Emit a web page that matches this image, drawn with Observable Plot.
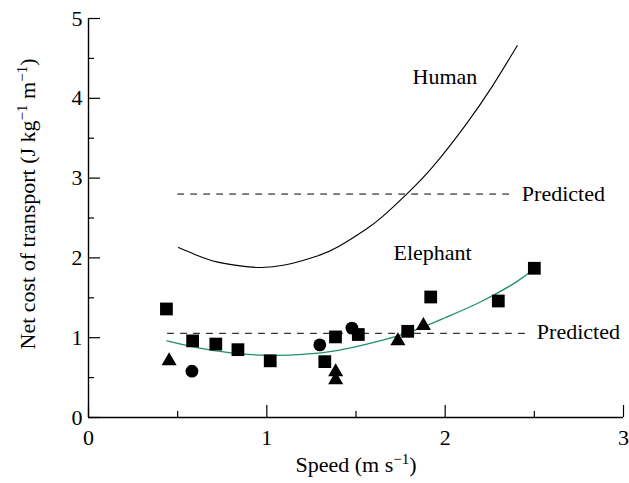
<!DOCTYPE html>
<html>
<head>
<meta charset="utf-8">
<script src="https://cdn.jsdelivr.net/npm/d3@7"></script>
<script src="https://cdn.jsdelivr.net/npm/@observablehq/plot@0.6"></script>
<style>
  html, body { margin: 0; padding: 0; background: #fff; }
  #chart { width: 629px; height: 483px; }
</style>
</head>
<body>
<div id="chart"></div>
<script>
// ---- data ----
const xTicks = [0, 1, 2, 3];
const xMinorTicks = [0.5, 1.5, 2.5];
const yTicks = [0, 1, 2, 3, 4, 5];
const yMinorTicks = [0.5, 1.5, 2.5, 3.5, 4.5];

const squareX = [0.437, 0.584, 0.714, 0.838, 1.019, 1.325, 1.385, 1.513, 1.79, 1.919, 2.298, 2.5];
const squareY = [1.36, 0.96, 0.92, 0.85, 0.71, 0.70, 1.01, 1.04, 1.08, 1.51, 1.46, 1.87];
const circleX = [0.58, 1.297, 1.477];
const circleY = [0.58, 0.91, 1.12];
const triangleX = [0.452, 1.386, 1.386, 1.735, 1.878];
const triangleY = [0.71, 0.57, 0.47, 0.96, 1.15];

const elephantX = [0.44, 0.6, 0.8, 1.0, 1.2, 1.4, 1.6, 1.8, 2.0, 2.2, 2.4, 2.5];
const elephantY = [0.96, 0.88, 0.81, 0.78, 0.79, 0.84, 0.94, 1.07, 1.25, 1.45, 1.70, 1.87];

const humanX = [0.504, 0.6, 0.719, 0.85, 0.961, 1.1, 1.278, 1.4, 1.55, 1.65, 1.78, 1.93, 2.116, 2.264, 2.404];
const humanY = [2.13, 2.04, 1.95, 1.90, 1.88, 1.91, 2.02, 2.14, 2.35, 2.52, 2.79, 3.14, 3.67, 4.15, 4.66];

const predictedHumanX = [0.5, 2.37];
const predictedHumanY = [2.8, 2.8];
const predictedElephantX = [0.443, 2.47];
const predictedElephantY = [1.055, 1.055];

const labelText = ["Human", "Elephant", "Predicted", "Predicted"];
const labelX = [1.817, 1.71, 2.43, 2.514];
const labelY = [4.27, 2.06, 2.8, 1.07];

// ---- build tables ----
const pts = (xs, ys) => xs.map((x, i) => ({x, y: ys[i]}));
const squares = pts(squareX, squareY);
const circles = pts(circleX, circleY);
const triangles = pts(triangleX, triangleY);
const elephant = pts(elephantX, elephantY);
const human = pts(humanX, humanY);
const predH = pts(predictedHumanX, predictedHumanY);
const predE = pts(predictedElephantX, predictedElephantY);
const labels = labelText.map((t, i) => ({text: t, x: labelX[i], y: labelY[i]}));

const FONT = "Liberation Serif, Times New Roman, serif";
const green = "#1f8e6c";

const plot = Plot.plot({
  width: 629,
  height: 483,
  marginLeft: 88,
  marginRight: 6,
  marginTop: 18,
  marginBottom: 66,
  x: {domain: [0, 3]},
  y: {domain: [0, 5]},
  style: {fontFamily: FONT, fontSize: "22px", color: "black", background: "white"},
  marks: [
    Plot.axisX({ticks: xTicks, tickSize: -12, tickPadding: 24, label: null, fontSize: 22, tickFormat: d => String(d), strokeWidth: 1.2}),
    Plot.axisX({ticks: xMinorTicks, tickSize: -6, label: null, tickFormat: () => "", strokeWidth: 1.2}),
    Plot.axisY({ticks: yTicks, tickSize: -12, tickPadding: 18, label: null, fontSize: 22, tickFormat: d => String(d), strokeWidth: 1.2}),
    Plot.axisY({ticks: yMinorTicks, tickSize: -6, label: null, tickFormat: () => "", strokeWidth: 1.2}),
    Plot.ruleX([0], {stroke: "black", strokeWidth: 1.4}),
    Plot.ruleY([0], {stroke: "black", strokeWidth: 1.4}),
    Plot.line(predH, {x: "x", y: "y", stroke: "black", strokeWidth: 1, strokeDasharray: "6,7"}),
    Plot.line(predE, {x: "x", y: "y", stroke: "black", strokeWidth: 1, strokeDasharray: "6,7"}),
    Plot.line(human, {x: "x", y: "y", stroke: "black", strokeWidth: 1.1, curve: "natural"}),
    Plot.line(elephant, {x: "x", y: "y", stroke: green, strokeWidth: 1.3, curve: "natural"}),
    Plot.dot(squares, {x: "x", y: "y", symbol: "square", r: 7.2, fill: "black", stroke: "none"}),
    Plot.dot(circles, {x: "x", y: "y", symbol: "circle", r: 6.4, fill: "black", stroke: "none"}),
    Plot.dot(triangles, {x: "x", y: "y", symbol: "triangle", r: 5.6, fill: "black", stroke: "none"}),
    Plot.text(labels, {x: "x", y: "y", text: "text", textAnchor: "start", fontSize: 22, fill: "black", fontFamily: FONT})
  ]
});

document.getElementById("chart").appendChild(plot);

// ---- axis titles with superscripts ----
const svg = d3.select(plot);
const xt = svg.append("text")
  .attr("x", 356).attr("y", 472)
  .attr("text-anchor", "middle")
  .attr("font-family", FONT).attr("font-size", 22).attr("fill", "black");
xt.append("tspan").text("Speed (m s");
xt.append("tspan").attr("font-size", 15).attr("dy", -8).text("\u22121");
xt.append("tspan").attr("dy", 8).text(")");

const yt = svg.append("text")
  .attr("transform", "translate(34.5,204) rotate(-90)")
  .attr("text-anchor", "middle")
  .attr("font-family", FONT).attr("font-size", 22).attr("fill", "black");
yt.append("tspan").text("Net cost of transport (J kg");
yt.append("tspan").attr("font-size", 15).attr("dy", -8).text("\u22121");
yt.append("tspan").attr("dy", 8).text(" m");
yt.append("tspan").attr("font-size", 15).attr("dy", -8).text("\u22121");
yt.append("tspan").attr("dy", 8).text(")");
</script>
</body>
</html>
